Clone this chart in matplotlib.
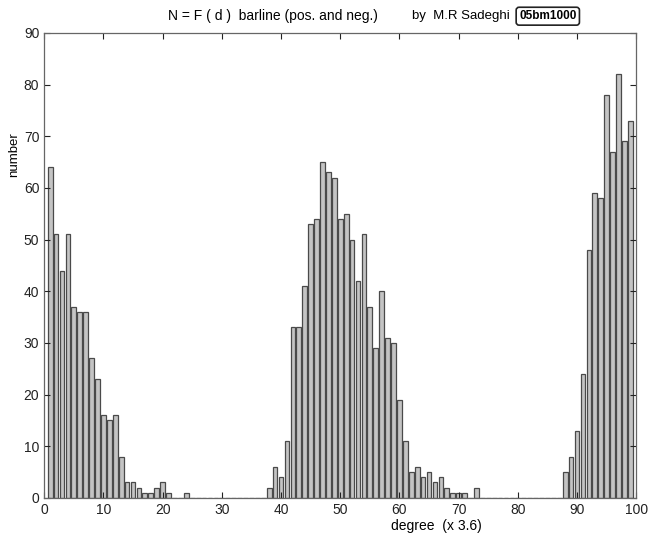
import numpy as np
import matplotlib
matplotlib.use("Agg")
import matplotlib.pyplot as plt

# counts, for degree 1..99 (zero where no bar)
degree = list(range(1, 100))
counts = [64, 51, 44, 51, 37, 36, 36, 27, 23, 16,
          15, 16, 8, 3, 3, 2, 1, 1, 2, 3,
          1, 0, 0, 1, 0, 0, 0, 0, 0, 0,
          0, 0, 0, 0, 0, 0, 0, 2, 6, 4,
          11, 33, 33, 41, 53, 54, 65, 63, 62, 54,
          55, 50, 42, 51, 37, 29, 40, 31, 30, 19,
          11, 5, 6, 4, 5, 3, 4, 2, 1, 1,
          1, 0, 2, 0, 0, 0, 0, 0, 0, 0,
          0, 0, 0, 0, 0, 0, 0, 5, 8, 13,
          24, 48, 59, 58, 78, 67, 82, 69, 73]

title_left = "N = F ( d )  barline (pos. and neg.)"
title_right = "by  M.R Sadeghi"
title_tag = "05bm1000"

plt.rcParams['font.family'] = ['Liberation Sans', 'DejaVu Sans']


def main():
    fig = plt.figure(figsize=(6.6, 5.4), dpi=100)
    ax = fig.add_axes([0.067, 0.078, 0.897, 0.861])

    ax.bar(degree, counts, width=0.8, color='#c4c4c4',
           edgecolor='#4a4a4a', linewidth=0.9)

    ax.set_xlim(0, 100)
    ax.set_ylim(0, 90)
    ax.set_xticks(np.arange(0, 101, 10))
    ax.set_yticks(np.arange(0, 91, 10))
    ax.tick_params(direction='in', top=True, right=True, length=4,
                   labelsize=10, colors='#222222')
    for s in ax.spines.values():
        s.set_color('#666666')
        s.set_linewidth(0.9)

    # labels sit off-centre in the original
    ax.set_ylabel("number", fontsize=9.5)
    ax.yaxis.set_label_coords(-0.04, 0.738)
    ax.set_xlabel("degree  (x 3.6)", fontsize=10)
    ax.xaxis.set_label_coords(0.663, -0.046)

    fig.text(0.413, 0.970, title_left, ha='center', va='center', fontsize=10)
    fig.text(0.698, 0.970, title_right, ha='center', va='center', fontsize=9.5)
    fig.text(0.830, 0.970, title_tag, ha='center', va='center', fontsize=8.5,
             fontweight='bold',
             bbox=dict(boxstyle='round,pad=0.25', fc='white', ec='#222222', lw=1.2))

    fig.savefig("out.png", dpi=100)


if __name__ == "__main__":
    main()
